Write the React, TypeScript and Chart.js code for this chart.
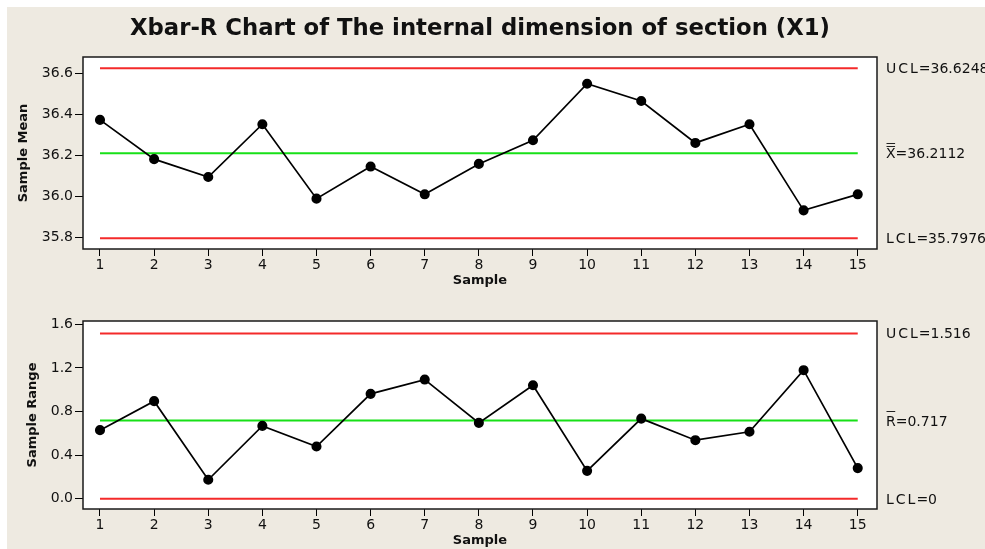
import React, { useEffect, useRef } from "react";
import { Chart, registerables } from "chart.js";

Chart.register(...registerables);

// ---------- data ----------
const titleText = "Xbar-R Chart of The internal dimension of section (X1)";
const samples = [1, 2, 3, 4, 5, 6, 7, 8, 9, 10, 11, 12, 13, 14, 15];
const sampleMeans = [36.373, 36.182, 36.095, 36.352, 35.990, 36.146, 36.011, 36.159, 36.274, 36.549, 36.465, 36.261, 36.352, 35.933, 36.011];
const sampleRanges = [0.629, 0.895, 0.174, 0.668, 0.479, 0.962, 1.093, 0.696, 1.041, 0.256, 0.735, 0.537, 0.614, 1.179, 0.281];
const meanTicks = [35.8, 36.0, 36.2, 36.4, 36.6];
const rangeTicks = [0.0, 0.4, 0.8, 1.2, 1.6];
const xbarUCL = 36.6248;
const xbarCenter = 36.2112;
const xbarLCL = 35.7976;
const rangeUCL = 1.516;
const rangeCenter = 0.717;
const rangeLCL = 0;
const xbarLabels = [
  { name: "UCL", bars: 0, text: "=36.6248", value: xbarUCL },
  { name: "X", bars: 2, text: "=36.2112", value: xbarCenter },
  { name: "LCL", bars: 0, text: "=35.7976", value: xbarLCL },
];
const rangeLabels = [
  { name: "UCL", bars: 0, text: "=1.516", value: rangeUCL },
  { name: "R", bars: 1, text: "=0.717", value: rangeCenter },
  { name: "LCL", bars: 0, text: "=0", value: rangeLCL },
];

const FONT = '"DejaVu Sans", Verdana, sans-serif';
const RED = "#f42a2a";
const GREEN = "#17e017";

type Cfg = {
  values: number[];
  ucl: number;
  center: number;
  lcl: number;
  ticks: number[];
  yMin: number;
  yMax: number;
  labels: { name: string; bars: number; text: string; value: number }[];
  yTitle: string;
  yTitleX: number;
  padTop: number;
  xHeight: number;
  xTitleY: number;
  showTitle: boolean;
};

function makeChart(canvas: HTMLCanvasElement, c: Cfg) {
  const line = (y: number, color: string) => ({
    data: [
      { x: samples[0], y },
      { x: samples[samples.length - 1], y },
    ],
    borderColor: color,
    borderWidth: 2,
    pointRadius: 0,
    showLine: true,
    fill: false,
  });
  const boxPlugin = {
    id: "boxPlugin",
    beforeDraw(chart: any) {
      const { ctx, chartArea: a } = chart;
      ctx.save();
      ctx.fillStyle = "#ffffff";
      ctx.fillRect(a.left, a.top, a.right - a.left, a.bottom - a.top);
      ctx.restore();
    },
    afterDraw(chart: any) {
      const { ctx, chartArea: a, scales } = chart;
      ctx.save();
      ctx.strokeStyle = "#1a1a1a";
      ctx.lineWidth = 1.5;
      ctx.strokeRect(a.left, a.top, a.right - a.left, a.bottom - a.top);

      // axis titles
      ctx.fillStyle = "#111";
      ctx.font = `bold 13px ${FONT}`;
      ctx.textAlign = "center";
      ctx.textBaseline = "middle";
      ctx.fillText("Sample", (a.left + a.right) / 2, c.xTitleY);
      ctx.save();
      ctx.translate(c.yTitleX, (a.top + a.bottom) / 2);
      ctx.rotate(-Math.PI / 2);
      ctx.fillText(c.yTitle, 0, 0);
      ctx.restore();

      // right labels
      ctx.font = `14px ${FONT}`;
      ctx.textAlign = "left";
      ctx.textBaseline = "alphabetic";
      const x0 = a.right + 9;
      for (const l of c.labels) {
        const base = scales.y.getPixelForValue(l.value) + 5;
        let x = x0;
        if (l.bars === 0) {
          (ctx as any).letterSpacing = "2px";
          ctx.fillText(l.name, x, base);
          x += ctx.measureText(l.name).width - 1;
          (ctx as any).letterSpacing = "0px";
        } else {
          ctx.fillText(l.name, x, base);
          const w = ctx.measureText(l.name).width;
          ctx.strokeStyle = "#222";
          ctx.lineWidth = 1;
          const capTop = base - 10;
          for (let b = 0; b < l.bars; b++) {
            const yy = Math.round(capTop - 5 + b * 2.6) + 0.5;
            ctx.beginPath();
            ctx.moveTo(x + 0.5, yy);
            ctx.lineTo(x + w - 0.5, yy);
            ctx.stroke();
          }
          x += w;
        }
        ctx.fillText(l.text, x, base);
      }

      if (c.showTitle) {
        ctx.font = `bold 23px ${FONT}`;
        ctx.textAlign = "left";
        ctx.textBaseline = "middle";
        const tw = ctx.measureText(titleText).width;
        const target = 700;
        ctx.save();
        ctx.translate(130, 29);
        ctx.scale(target / tw, 1);
        ctx.fillText(titleText, 0, 0);
        ctx.restore();
      }
      ctx.restore();
    },
  };

  return new Chart(canvas, {
    type: "scatter",
    data: {
      datasets: [
        {
          data: samples.map((s, i) => ({ x: s, y: c.values[i] })),
          borderColor: "#000",
          backgroundColor: "#000",
          borderWidth: 1.7,
          pointRadius: 4.2,
          pointBackgroundColor: "#000",
          pointBorderColor: "#000",
          showLine: true,
          fill: false,
        },
        line(c.ucl, RED),
        line(c.center, GREEN),
        line(c.lcl, RED),
      ] as any,
    },
    options: {
      animation: false,
      responsive: false,
      events: [],
      layout: { padding: { top: c.padTop, left: 0, right: 108, bottom: 0 } },
      plugins: { legend: { display: false }, tooltip: { enabled: false }, title: { display: false } },
      scales: {
        x: {
          type: "linear",
          min: 0.686,
          max: 15.356,
          afterBuildTicks: (s: any) => {
            s.ticks = samples.map((v) => ({ value: v }));
          },
          afterFit: (s: any) => {
            s.height = c.xHeight;
          },
          ticks: {
            autoSkip: false,
            maxRotation: 0,
            padding: 1,
            color: "#111",
            font: { family: FONT, size: 14 },
            callback: (v: any) => String(v),
          },
          grid: { drawOnChartArea: false, drawTicks: true, tickLength: 7, color: "#000", lineWidth: 1 },
          border: { display: false },
        },
        y: {
          type: "linear",
          min: c.yMin,
          max: c.yMax,
          afterBuildTicks: (s: any) => {
            s.ticks = c.ticks.map((v) => ({ value: v }));
          },
          afterFit: (s: any) => {
            s.width = 83;
          },
          ticks: {
            padding: 2,
            color: "#111",
            font: { family: FONT, size: 14 },
            callback: (v: any) => Number(v).toFixed(1),
          },
          grid: { drawOnChartArea: false, drawTicks: true, tickLength: 8, color: "#000", lineWidth: 1 },
          border: { display: false },
        },
      },
    } as any,
    plugins: [boxPlugin],
  });
}

export default function App() {
  const topRef = useRef<HTMLCanvasElement>(null);
  const botRef = useRef<HTMLCanvasElement>(null);

  useEffect(() => {
    const c1 = makeChart(topRef.current!, {
      values: sampleMeans,
      ucl: xbarUCL,
      center: xbarCenter,
      lcl: xbarLCL,
      ticks: meanTicks,
      yMin: 35.745,
      yMax: 36.679,
      labels: xbarLabels,
      yTitle: "Sample Mean",
      yTitleX: 24,
      padTop: 57,
      xHeight: 51,
      xTitleY: 281,
      showTitle: true,
    });
    const c2 = makeChart(botRef.current!, {
      values: sampleRanges,
      ucl: rangeUCL,
      center: rangeCenter,
      lcl: rangeLCL,
      ticks: rangeTicks,
      yMin: -0.094,
      yMax: 1.63,
      labels: rangeLabels,
      yTitle: "Sample Range",
      yTitleX: 32.5,
      padTop: 21,
      xHeight: 40,
      xTitleY: 240.5,
      showTitle: false,
    });
    return () => {
      c1.destroy();
      c2.destroy();
    };
  }, []);

  return (
    <div style={{ position: "fixed", left: 0, top: 0, width: 985, height: 549, background: "#ffffff", overflow: "hidden" }}>
      <div style={{ position: "absolute", left: 7, top: 7, right: 0, bottom: 0, background: "#eeeae1" }} />
      <canvas ref={topRef} width={985} height={300} style={{ position: "absolute", left: 0, top: 0, width: 985, height: 300 }} />
      <canvas ref={botRef} width={985} height={249} style={{ position: "absolute", left: 0, top: 300, width: 985, height: 249 }} />
    </div>
  );
}
